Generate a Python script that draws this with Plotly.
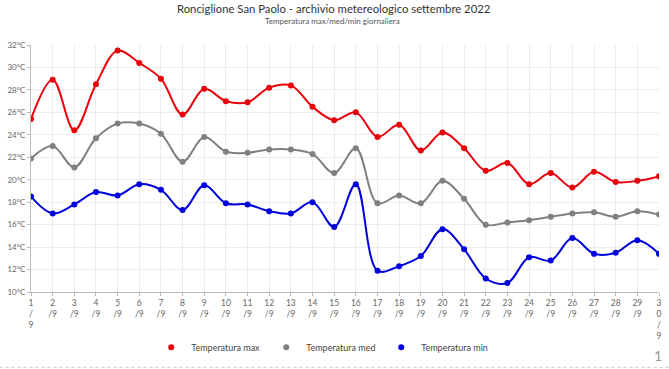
import plotly.graph_objects as go

days = list(range(1, 31))
tick_labels = ["1<br>/<br>9"] + [f"{d}<br>/9" for d in range(2, 30)] + ["3<br>0<br>/<br>9"]

t_max = [25.4, 28.9, 24.4, 28.5, 31.5, 30.4, 29.0, 25.8, 28.1, 27.0,
         26.9, 28.2, 28.4, 26.5, 25.3, 26.0, 23.8, 24.9, 22.6, 24.2,
         22.8, 20.8, 21.5, 19.6, 20.6, 19.3, 20.7, 19.8, 19.9, 20.3]
t_med = [21.9, 23.0, 21.1, 23.7, 25.0, 25.0, 24.1, 21.6, 23.8, 22.5,
         22.4, 22.7, 22.7, 22.3, 20.6, 22.8, 17.9, 18.6, 17.9, 19.9,
         18.3, 16.0, 16.2, 16.4, 16.7, 17.0, 17.1, 16.7, 17.2, 16.9]
t_min = [18.5, 17.0, 17.8, 18.9, 18.6, 19.6, 19.1, 17.3, 19.5, 17.9,
         17.8, 17.2, 17.0, 18.0, 15.8, 19.6, 11.9, 12.3, 13.2, 15.6,
         13.8, 11.2, 10.8, 13.1, 12.8, 14.8, 13.4, 13.5, 14.6, 13.4]

series = [("Temperatura max", t_max, "#e8000b"),
          ("Temperatura med", t_med, "#808080"),
          ("Temperatura min", t_min, "#0000dd")]

fig = go.Figure()
for name, vals, col in series:
    fig.add_trace(go.Scatter(
        x=days, y=vals, name=name, mode="lines+markers", showlegend=False,
        line=dict(color=col, width=2, shape="spline", smoothing=1.0),
        marker=dict(color=col, size=6),
        hovertemplate="%{y}°C<extra>" + name + "</extra>",
    ))
# legend entries (dot symbol like the reference)
for name, vals, col in series:
    fig.add_trace(go.Scatter(
        x=[None], y=[None], name=name, mode="markers",
        marker=dict(color=col, size=6), showlegend=True, hoverinfo="skip",
    ))

font_family = "Lato, 'Open Sans', sans-serif"
fig.update_layout(
    width=669, height=369,
    margin=dict(l=30, r=7, t=45, b=76.5),
    paper_bgcolor="white", plot_bgcolor="white",
    font=dict(family=font_family, size=9, color="#666"),
    showlegend=True,
    legend=dict(orientation="h", x=(151 - 30) / 632, xanchor="left", y=-0.224, yanchor="middle",
                font=dict(size=9, color="#444"), itemwidth=30, tracegroupgap=0,
                entrywidth=70, bgcolor="rgba(0,0,0,0)"),
    xaxis=dict(range=[1, 30], tickmode="array", tickvals=days, ticktext=tick_labels,
               tickangle=0, showgrid=True, gridcolor="#ececec", gridwidth=1,
               showline=True, linecolor="#bbb", linewidth=1, ticks="outside",
               ticklen=3, tickcolor="#bbb", zeroline=False,
               tickfont=dict(size=8.5, color="#666")),
    yaxis=dict(range=[10, 32], dtick=2, tick0=10, ticksuffix="°C",
               showgrid=True, gridcolor="#ececec", gridwidth=1,
               showline=True, linecolor="#bbb", linewidth=1, ticks="outside",
               ticklen=3, tickcolor="#bbb", zeroline=False,
               tickfont=dict(size=8, color="#666")),
    annotations=[
        dict(text="Ronciglione San Paolo - archivio metereologico settembre 2022",
             xref="paper", yref="paper", x=(334.5 - 30) / 632, y=1, yshift=37,
             xanchor="center", yanchor="middle", showarrow=False,
             font=dict(size=11.3, color="#333", family=font_family)),
        dict(text="Temperatura max/med/min giornaliera",
             xref="paper", yref="paper", x=(333 - 30) / 632, y=1, yshift=24,
             xanchor="center", yanchor="middle", showarrow=False,
             font=dict(size=8, color="#555", family=font_family)),
        dict(text="1", xref="paper", yref="paper", x=1, y=0, xshift=5, yshift=-63,
             xanchor="right", yanchor="middle", showarrow=False,
             font=dict(size=14, color="#999", family=font_family)),
    ],
    shapes=[dict(type="line", xref="paper", yref="paper", x0=-0.05, x1=1.02,
                 y0=-0.305, y1=-0.305, line=dict(color="#ccc", width=1, dash="dot"))],
)

fig.write_html("out.html", config={"displayModeBar": False},
               post_script="document.body.style.margin='0';document.body.style.overflow='hidden';")
